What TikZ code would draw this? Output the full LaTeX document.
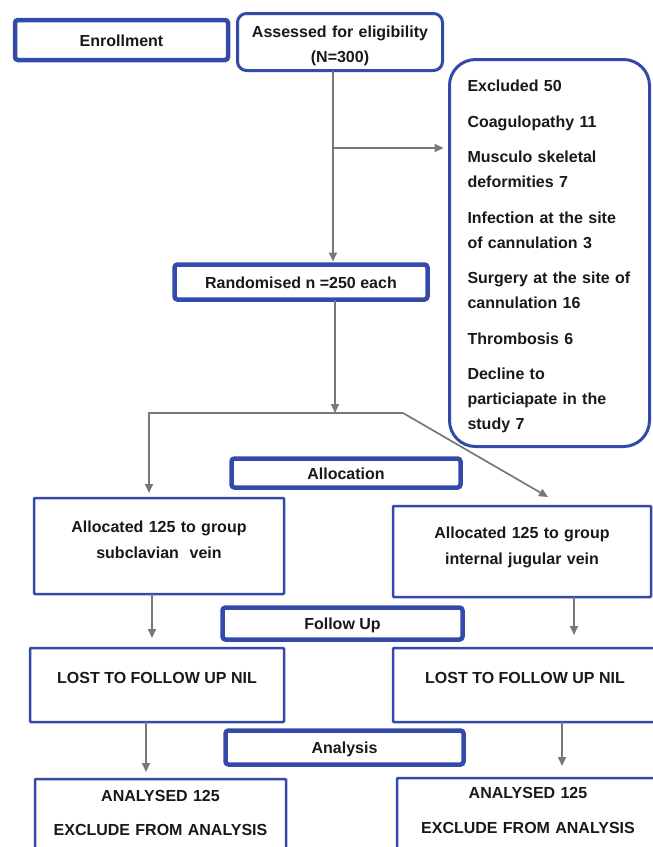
\documentclass[tikz,border=0pt]{standalone}
\usepackage{fontspec}
\setmainfont{Liberation Sans}
\usetikzlibrary{arrows.meta, positioning, calc}
\definecolor{frameblue}{RGB}{52,74,170}
\definecolor{linkgray}{RGB}{120,120,120}

\begin{document}
\begin{tikzpicture}[
    x=1pt, y=-1pt,
    >={Triangle[length=9pt, width=8pt]},
    arr/.style={->, linkgray, line width=1.7pt},
    box/.style={draw=frameblue, fill=white, anchor=north west, inner sep=0pt, outer sep=0pt,
        font=\bfseries\fontsize{16}{25}\selectfont, text=black!90, text height=12pt, text depth=0pt},
    heavybox/.style={box, line width=4.5pt, rounded corners=3pt},
    roundbox/.style={box, line width=3pt},
    thinbox/.style={box, line width=2.5pt, rounded corners=1pt},
    twoline/.style={align=center, text width=#1},
]
\clip (0,0) rectangle (653,847);
% === Enrollment ===
\node[heavybox, minimum width=213pt, minimum height=40pt] (enroll) at (15,20) {Enrollment};
\node[roundbox, rounded corners=9pt, minimum width=205pt, minimum height=57pt,
      twoline=200pt, text depth=20.5pt] (assess) at (237.5,13.5) {Assessed for eligibility\\(N=300)};
%
\node[roundbox, rounded corners=26pt, minimum width=200pt, minimum height=387pt,
      align=left, text width=164pt, inner xsep=18pt, text depth=334.5pt] (excl) at (449.5,59.5)
    {Excluded 50\\[10.5pt]
     Coagulopathy 11\\[10.5pt]
     Musculo skeletal\\deformities 7\\[10.5pt]
     Infection at the site\\of cannulation 3\\[10.5pt]
     Surgery at the site of\\cannulation 16\\[10.5pt]
     Thrombosis 6\\[10.5pt]
     Decline to\\particiapate in the\\study 7};
\node[heavybox, minimum width=253pt, minimum height=35pt] (rand) at (174.5,264.5) {Randomised n =250 each};
% === Allocation ===
\node[heavybox, minimum width=229pt, minimum height=29pt] (allocation) at (231.5,458.5) {Allocation};
\node[thinbox, minimum width=250pt, minimum height=96pt, twoline=245pt, text depth=38.5pt] (allocL) at (34,498)
    {Allocated 125 to group\\[1pt]subclavian~ vein};
\node[thinbox, minimum width=258pt, minimum height=91pt, twoline=250pt, text depth=37.5pt] (allocR) at (393,506)
    {Allocated 125 to group\\[1pt]internal jugular vein};
% === Follow up ===
\node[heavybox, minimum width=240pt, minimum height=32pt] (follow) at (222.5,607.5) {Follow Up};
\node[thinbox, minimum width=254pt, minimum height=74pt, text depth=14.5pt] (lostL) at (30,648) {LOST TO FOLLOW UP NIL};
\node[thinbox, minimum width=264pt, minimum height=74pt, text depth=14.5pt] (lostR) at (393,648) {LOST TO FOLLOW UP NIL};
% === Analysis ===
\node[heavybox, minimum width=238pt, minimum height=34pt] (analysis) at (225.5,730.5) {Analysis};
\node[thinbox, minimum width=251pt, minimum height=100pt, twoline=245pt, text depth=66.5pt] (anaL) at (35,779)
    {ANALYSED 125\\[9pt]EXCLUDE FROM ANALYSIS};
\node[thinbox, minimum width=262pt, minimum height=100pt, twoline=250pt, text depth=70.5pt] (anaR) at (397,778)
    {ANALYSED 125\\[10pt]EXCLUDE FROM ANALYSIS};
% === Connectors ===
\coordinate (trunk) at (333,0);
\coordinate (split) at (333,148);
\coordinate (fork) at (335,413);
\coordinate (forkL) at (149,413);
\coordinate (forkR) at (403,413);
\coordinate (tipR) at (548,497);
\coordinate (colL1) at (152,0);
\coordinate (colL2) at (146,0);
\coordinate (colR1) at (574,0);
\coordinate (colR2) at (562,0);
\draw[arr, shorten >=3pt] (assess.south -| trunk) -- (rand.north -| trunk);
\draw[arr, shorten >=6pt] (split) -- (split -| excl.west);
\draw[arr] (rand.south -| fork) -- (fork);
\draw[arr, shorten >=5pt] (forkR) -- (forkL) -- (allocL.north -| forkL);
\draw[arr] (forkR) -- (tipR);
\draw[arr, shorten >=10pt] (allocL.south -| colL1) -- (lostL.north -| colL1);
\draw[arr, shorten >=7pt] (lostL.south -| colL2) -- (anaL.north -| colL2);
\draw[arr, shorten >=13pt] (allocR.south -| colR1) -- (lostR.north -| colR1);
\draw[arr, shorten >=12pt] (lostR.south -| colR2) -- (anaR.north -| colR2);
\end{tikzpicture}
\end{document}
